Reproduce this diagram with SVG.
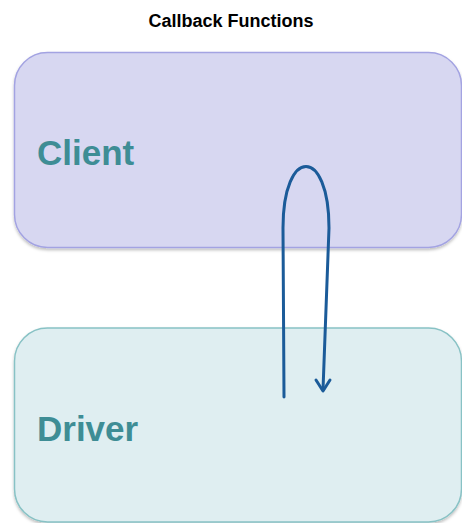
<svg xmlns="http://www.w3.org/2000/svg" width="462" height="523" viewBox="0 0 462 523">
  <defs>
    <filter id="shadow" x="-5%" y="-5%" width="110%" height="115%">
      <feDropShadow dx="0" dy="2" stdDeviation="1.5" flood-color="#000" flood-opacity="0.25"/>
    </filter>
  </defs>
  <style>
    .title { font-family: "Liberation Sans", Arial, sans-serif; font-weight: bold; font-size: 18px; fill: #000; }
    .label { font-family: "Liberation Sans", Arial, sans-serif; font-weight: bold; font-size: 35px; fill: #3e8d95; }
    .client { fill: #d7d7f1; stroke: #a3a3e2; stroke-width: 1.5; }
    .driver { fill: #dfeef1; stroke: #88c2c5; stroke-width: 1.5; }
    .flow { fill: none; stroke: #1b5b99; stroke-width: 3; stroke-linecap: round; stroke-linejoin: round; }
  </style>

  <rect width="462" height="523" fill="#fff"/>

  <text class="title" x="231" y="27" text-anchor="middle">Callback Functions</text>

  <g id="client">
    <rect class="client" x="14.5" y="52.5" width="447" height="195" rx="33" filter="url(#shadow)"/>
    <text class="label" x="37" y="165">Client</text>
  </g>

  <g id="driver">
    <rect class="driver" x="14.5" y="328" width="447" height="194" rx="33" filter="url(#shadow)"/>
    <text class="label" x="37" y="441">Driver</text>
  </g>

  <g id="connectors">
    <path class="flow" d="M284,397 L283,228 C283,146 329,146 329,228 L323,390"/>
    <path class="flow" d="M316,380 L323,391 L330,380"/>
  </g>
</svg>
